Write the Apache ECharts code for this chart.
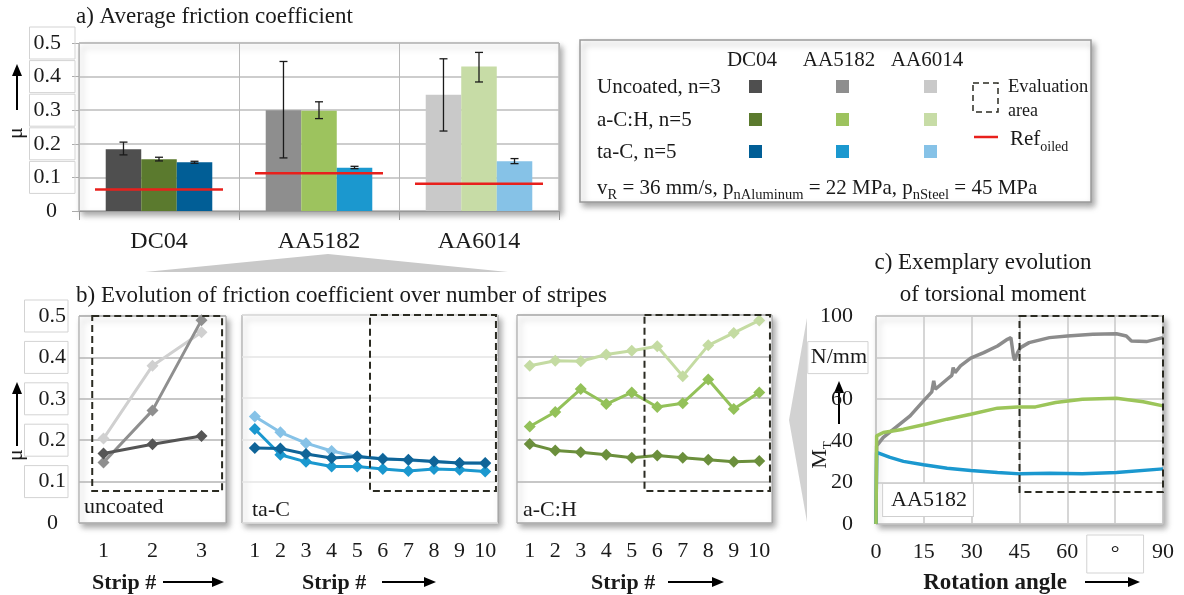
<!DOCTYPE html>
<html>
<head>
    <meta charset="utf-8">
    <title>Friction coefficient</title>
    <script src="https://cdn.jsdelivr.net/npm/echarts@6/dist/echarts.min.js"></script>
</head>
<body style="margin:0;background:#fff;">
<div id="main" style="width: 1184px;height:595px;"></div>
<script type="text/javascript">
// a) average friction coefficient
var materials = ['DC04', 'AA5182', 'AA6014'];
var coatings = ['Uncoated, n=3', 'a-C:H, n=5', 'ta-C, n=5'];
var muUncoated = [0.184, 0.300, 0.346];
var muACH = [0.154, 0.298, 0.430];
var muTaC = [0.145, 0.129, 0.148];
var errUncoated = [[0.167, 0.205], [0.158, 0.445], [0.238, 0.453]];
var errACH = [[0.149, 0.160], [0.275, 0.325], [0.384, 0.472]];
var errTaC = [[0.142, 0.148], [0.126, 0.133], [0.141, 0.156]];
var muRefOiled = [0.064, 0.112, 0.081];

// b) evolution over strips
var stripsUncoated = ['1', '2', '3'];
var stripsCoated = ['1', '2', '3', '4', '5', '6', '7', '8', '9', '10'];
var uncDC04 = [0.168, 0.190, 0.210];
var uncAA5182 = [0.146, 0.272, 0.490];
var uncAA6014 = [0.204, 0.380, 0.461];
var tacDC04 = [0.180, 0.179, 0.166, 0.156, 0.160, 0.154, 0.152, 0.148, 0.144, 0.144];
var tacAA5182 = [0.226, 0.164, 0.147, 0.136, 0.136, 0.130, 0.125, 0.130, 0.128, 0.124];
var tacAA6014 = [0.256, 0.218, 0.192, 0.173, 0.160, 0.155, 0.151, 0.148, 0.144, 0.143];
var achDC04 = [0.190, 0.174, 0.170, 0.164, 0.157, 0.162, 0.157, 0.152, 0.147, 0.149];
var achAA5182 = [0.232, 0.267, 0.322, 0.286, 0.314, 0.279, 0.288, 0.345, 0.274, 0.314];
var achAA6014 = [0.378, 0.390, 0.389, 0.405, 0.414, 0.425, 0.353, 0.427, 0.457, 0.487];
// evaluation areas: [first strip, last strip, mu bottom, mu top]
var evalUncoated = [0.77, 3.42, 0.077, 0.5];
var evalTaC = [5.5, 10.42, 0.077, 0.5];
var evalACH = [5.5, 10.42, 0.077, 0.5];

// c) torsional moment AA5182, [angle, M_T]
var mtUncoated = [[0, 0], [0.2, 37.6], [2.3, 41.6], [6.5, 46.8], [10.7, 52], [14.9, 59.2], [17.5, 63.5], [18.1, 68.8], [18.6, 64.8],
    [22.3, 69.6], [23.8, 71.5], [24.2, 75.2], [24.8, 72.8], [26.5, 76], [29.7, 79.7], [33.8, 82.4], [38.1, 85.6], [41.2, 88.8],
    [42.3, 89.6], [43.1, 80.8], [43.5, 78.7], [44.4, 82.4], [45.3, 84.8], [48, 87.2], [54.4, 89.6], [60, 90.4], [68, 91.2],
    [75.4, 91.5], [78.5, 90.4], [80.1, 88], [84.8, 87.7], [90, 89.6]];
var mtTaC = [[0, 0], [0.2, 34.4], [4.4, 32], [8.6, 30.1], [14.9, 28.5], [22.3, 26.8], [29.7, 25.7], [38.1, 24.8], [45.3, 24.1],
    [54.4, 24.4], [64.7, 24.1], [75.4, 24.8], [90, 26.5]];
var mtACH = [[0, 0], [0.2, 42.4], [2.3, 44], [8.6, 45.6], [14.9, 47.7], [22.3, 50.4], [29.7, 52.8], [38.1, 55.7], [44.4, 56.3],
    [50, 56.3], [56.3, 58.4], [64.7, 60], [75.4, 60.5], [83.8, 58.8], [90, 56.8]];
var evalTorque = [45, 90, 15.4, 100];

// colours per coating, per material
var colUncoated = ['#4f4f4f', '#8e8e8e', '#c9c9c9'];
var colACH = ['#5b7a2e', '#9dc35e', '#c7dca6'];
var colTaC = ['#015e96', '#1b98cf', '#86c2e7'];
var colLineACH = ['#6b8f3c', '#93c159', '#c4dba2'];

var font = 'Liberation Serif';

function barData(vals, cols) {
    return vals.map(function (v, i) { return { value: v, itemStyle: { color: cols[i] } }; });
}

var errData = [];
[errUncoated, errACH, errTaC].forEach(function (arr, c) {
    arr.forEach(function (e, i) { errData.push([i, c, e[0], e[1]]); });
});

function arrow(x1, y1, x2, y2) {
    var dx = x2 - x1, dy = y2 - y1, len = Math.sqrt(dx * dx + dy * dy);
    var ux = dx / len, uy = dy / len, h = 12, w = 5;
    var bx = x2 - ux * h, by = y2 - uy * h;
    return [
        { type: 'line', shape: { x1: x1, y1: y1, x2: bx, y2: by }, style: { stroke: '#000', lineWidth: 2 } },
        { type: 'polygon', shape: { points: [[x2, y2], [bx - uy * w, by + ux * w], [bx + uy * w, by - ux * w]] }, style: { fill: '#000' } }
    ];
}

function txt(x, y, s, size, opts) {
    var o = { type: 'text', x: x, y: y, style: { text: s, fontSize: size, fontFamily: font, fill: '#1a1a1a', align: 'left', verticalAlign: 'middle' } };
    if (opts) { for (var k in opts) { if (k === 'style') { for (var j in opts.style) o.style[j] = opts.style[j]; } else o[k] = opts[k]; } }
    return o;
}

function evalBox(idx, box, isCategory) {
    return {
        type: 'custom', xAxisIndex: idx, yAxisIndex: idx, z: 6, silent: true,
        data: [[0, 0]],
        renderItem: function (params, api) {
            var x0, x1;
            var top = api.coord([0, box[3]])[1], bot = api.coord([0, box[2]])[1];
            if (isCategory) {
                var band = api.size([1, 0])[0];
                var base = api.coord([0, 0])[0];
                x0 = base + (box[0] - 1) * band;
                x1 = base + (box[1] - 1) * band;
            } else {
                x0 = api.coord([box[0], 0])[0];
                x1 = api.coord([box[1], 0])[0];
            }
            return { type: 'rect', shape: { x: x0, y: top, width: x1 - x0, height: bot - top },
                style: { fill: 'none', stroke: '#2b2b22', lineWidth: 2, lineDash: [7, 4] } };
        }
    };
}

function stripLine(idx, name, data, color, z) {
    return {
        type: 'line', name: name, xAxisIndex: idx, yAxisIndex: idx, data: data, z: z || 2,
        symbol: 'diamond', symbolSize: 12, itemStyle: { color: color },
        lineStyle: { color: color, width: 3 }, emphasis: { disabled: true }
    };
}

function torqueLine(name, data, color) {
    return {
        type: 'line', name: name, xAxisIndex: 4, yAxisIndex: 4, data: data, showSymbol: false,
        lineStyle: { color: color, width: 3.5 }, itemStyle: { color: color }, emphasis: { disabled: true }
    };
}

var boxGrid = {
    show: true, backgroundColor: '#fff', borderColor: '#9a9a9a', borderWidth: 1,
    shadowBlur: 6, shadowColor: 'rgba(0,0,0,0.35)', shadowOffsetX: 3, shadowOffsetY: 4,
    outerBoundsMode: 'none'
};
function grid(l, t, w, h) {
    var g = { left: l, top: t, width: w, height: h };
    for (var k in boxGrid) g[k] = boxGrid[k];
    return g;
}

var labelBox = { fontSize: 22, fontFamily: font, color: '#1a1a1a', borderColor: '#d3d3d3', borderWidth: 1 };
function rich(extra) { var o = {}; for (var k in labelBox) o[k] = labelBox[k]; for (var j in extra) o[j] = extra[j]; return o; }

var graphics = [];
// titles
graphics.push(txt(76, 17, 'a) Average friction coefficient', 23));
graphics.push(txt(76, 296, 'b) Evolution of friction coefficient over number of stripes', 23));
graphics.push(txt(983, 263, 'c) Exemplary evolution', 23, { style: { align: 'center' } }));
graphics.push(txt(993, 295, 'of torsional moment', 23, { style: { align: 'center' } }));
// zoom wedges
graphics.push({ type: 'polygon', shape: { points: [[145, 272], [328, 254], [508, 272]] }, style: { fill: '#c9c9c9' } });
graphics.push({ type: 'polygon', shape: { points: [[807, 318], [789, 420], [807, 522]] }, style: { fill: '#d2d2d2' } });
// axis names
graphics.push(txt(16, 133, 'μ', 22, { rotation: Math.PI / 2, style: { align: 'center' } }));
graphics = graphics.concat(arrow(17, 110, 17, 64));
graphics.push(txt(16, 455, 'μ', 22, { rotation: Math.PI / 2, style: { align: 'center' } }));
graphics = graphics.concat(arrow(17, 446, 17, 382));
graphics.push({ type: 'text', x: 820, y: 455, rotation: Math.PI / 2,
    style: { text: '{m|M}{t|T}', align: 'center', verticalAlign: 'middle',
        rich: { m: { fontSize: 22, fontFamily: font, fill: '#1a1a1a', lineHeight: 28, verticalAlign: 'middle' },
                t: { fontSize: 13, fontFamily: font, fill: '#1a1a1a', lineHeight: 28, verticalAlign: 'bottom' } } } });
graphics = graphics.concat(arrow(839, 424, 839, 381));
// strip / angle labels
var bold = { style: { fontWeight: 'bold' } };
graphics.push(txt(92, 583, 'Strip #', 22, bold));
graphics = graphics.concat(arrow(163, 582, 224, 582));
graphics.push(txt(302, 583, 'Strip #', 22, bold));
graphics = graphics.concat(arrow(382, 582, 436, 582));
graphics.push(txt(591, 583, 'Strip #', 22, bold));
graphics = graphics.concat(arrow(668, 582, 724, 582));
graphics.push(txt(995, 583, 'Rotation angle', 23, { style: { fontWeight: 'bold', align: 'center' } }));
graphics = graphics.concat(arrow(1085, 582, 1140, 582));
// in-plot labels
graphics.push(txt(84, 507, 'uncoated', 22));
graphics.push(txt(252, 510, 'ta-C', 22));
graphics.push(txt(523, 510, 'a-C:H', 22));
graphics.push(txt(928, 500, 'AA5182', 22, { z: 10, style: { align: 'center', backgroundColor: '#fff', borderColor: '#cfcfcf', borderWidth: 1, padding: [5, 6, 5, 8] } }));

// legend box
graphics.push({ type: 'rect', shape: { x: 580, y: 40, width: 511, height: 162 },
    style: { fill: '#fff', stroke: '#9a9a9a', lineWidth: 1.5, shadowBlur: 6, shadowColor: 'rgba(0,0,0,0.35)', shadowOffsetX: 3, shadowOffsetY: 4 } });
var legX = [755, 842, 930];
var legY = [86, 119, 151];
materials.forEach(function (m, i) { graphics.push(txt(legX[i] - 3, 60, m, 21, { style: { align: 'center' } })); });
coatings.forEach(function (c, r) { graphics.push(txt(597, legY[r] + 1, c, 21)); });
[colUncoated, colACH, colTaC].forEach(function (cols, r) {
    cols.forEach(function (col, i) {
        graphics.push({ type: 'rect', shape: { x: legX[i] - 6, y: legY[r] - 6, width: 13, height: 13 }, style: { fill: col } });
    });
});
graphics.push({ type: 'rect', shape: { x: 973, y: 83, width: 25, height: 29 }, style: { fill: 'none', stroke: '#2b2b22', lineWidth: 1.5, lineDash: [6, 4] } });
graphics.push(txt(1008, 87, 'Evaluation', 18.5));
graphics.push(txt(1008, 111, 'area', 18));
graphics.push({ type: 'line', shape: { x1: 974, y1: 137, x2: 998, y2: 137 }, style: { stroke: '#e8201c', lineWidth: 2.5 } });
graphics.push({ type: 'text', x: 1010, y: 139,
    style: { text: '{n|Ref}{s|oiled}', verticalAlign: 'middle',
        rich: { n: { fontSize: 21, fontFamily: font, fill: '#1a1a1a', lineHeight: 30, verticalAlign: 'middle' },
                s: { fontSize: 14, fontFamily: font, fill: '#1a1a1a', lineHeight: 30, verticalAlign: 'bottom' } } } });
graphics.push({ type: 'text', x: 597, y: 188,
    style: { text: '{n|v}{s|R}{n| = 36 mm/s, p}{s|nAluminum}{n| = 22 MPa, p}{s|nSteel}{n| = 45 MPa}', verticalAlign: 'middle',
        rich: { n: { fontSize: 21, fontFamily: font, fill: '#1a1a1a', lineHeight: 30, verticalAlign: 'middle' },
                s: { fontSize: 14.5, fontFamily: font, fill: '#1a1a1a', lineHeight: 30, verticalAlign: 'bottom' } } } });

var myChart = echarts.init(document.getElementById('main'));
var option = {
    animation: false,
    textStyle: { fontFamily: font },
    grid: [
        grid(79, 43, 480, 168),
        grid(79, 316, 147, 207),
        grid(242, 315, 256, 208),
        grid(517, 315, 255, 208),
        grid(876, 316, 287, 208)
    ],
    xAxis: [
        { type: 'category', gridIndex: 0, data: materials,
          axisLine: { lineStyle: { color: '#999' } },
          axisTick: { show: true, length: 9, lineStyle: { color: '#999' } },
          splitLine: { show: true, lineStyle: { color: '#b8b8b8' } },
          axisLabel: { fontSize: 24, fontFamily: font, color: '#1a1a1a', margin: 19 } },
        { type: 'category', gridIndex: 1, data: stripsUncoated, axisLine: { show: false }, axisTick: { show: false },
          axisLabel: { fontSize: 22, fontFamily: font, color: '#1a1a1a', margin: 17, interval: 0 } },
        { type: 'category', gridIndex: 2, data: stripsCoated, axisLine: { show: false }, axisTick: { show: false },
          axisLabel: { fontSize: 22, fontFamily: font, color: '#1a1a1a', margin: 17, interval: 0 } },
        { type: 'category', gridIndex: 3, data: stripsCoated, axisLine: { show: false }, axisTick: { show: false },
          axisLabel: { fontSize: 22, fontFamily: font, color: '#1a1a1a', margin: 17, interval: 0 } },
        { type: 'value', gridIndex: 4, min: 0, max: 90, interval: 15, axisLine: { show: false }, axisTick: { show: false },
          splitLine: { show: true, lineStyle: { color: '#c8c8c8', width: 1.5 } },
          axisLabel: { margin: 11,
              formatter: function (v) { return v === 75 ? '{d|°}' : '{n|' + v + '}'; },
              rich: { n: { fontSize: 22, fontFamily: font, color: '#1a1a1a', padding: [6, 0, 0, 0] },
                      d: rich({ padding: [8, 24, 8, 24] }) } } }
    ],
    yAxis: [
        { type: 'value', gridIndex: 0, min: 0, max: 0.5, interval: 0.1,
          axisLine: { show: false },
          axisTick: { show: true, length: 7, lineStyle: { color: '#aaa' } },
          splitLine: { lineStyle: { color: '#bdbdbd', width: 1.5 } },
          axisLabel: { margin: 4,
              formatter: function (v) { return v === 0 ? '{z|0}' : '{b|' + v.toFixed(1) + '}'; },
              rich: { b: rich({ padding: [5, 14, 5, 4] }),
                      z: { fontSize: 22, fontFamily: font, color: '#1a1a1a', padding: [0, 18, 0, 0] } } } },
        { type: 'value', gridIndex: 1, min: 0, max: 0.5, interval: 0.1, axisLine: { show: false }, axisTick: { show: false },
          splitLine: { lineStyle: { color: '#b4b4b4', width: 1.5 } },
          axisLabel: { margin: 11,
              formatter: function (v) { return v === 0 ? '{z|0}' : '{b|' + v.toFixed(1) + '}'; },
              rich: { b: rich({ padding: [5, 2, 5, 14] }),
                      z: { fontSize: 22, fontFamily: font, color: '#1a1a1a', padding: [0, 10, 0, 0] } } } },
        { type: 'value', gridIndex: 2, min: 0, max: 0.5, interval: 0.1, axisLine: { show: false }, axisTick: { show: false },
          axisLabel: { show: false }, splitLine: { lineStyle: { color: '#e4e4e4', width: 1.5 } } },
        { type: 'value', gridIndex: 3, min: 0, max: 0.5, interval: 0.1, axisLine: { show: false }, axisTick: { show: false },
          axisLabel: { show: false }, splitLine: { lineStyle: { color: '#b4b4b4', width: 1.5 } } },
        { type: 'value', gridIndex: 4, min: 0, max: 100, interval: 20, axisLine: { show: false }, axisTick: { show: false },
          splitLine: { lineStyle: { color: '#c8c8c8', width: 1.5 } },
          axisLabel: { margin: 8,
              formatter: function (v) { return v === 80 ? '{u|N/mm}' : '{n|' + v + '}'; },
              rich: { n: { fontSize: 22, fontFamily: font, color: '#1a1a1a', padding: [0, 15, 0, 0] },
                      u: rich({ padding: [5, 1, 5, 3] }) } } }
    ],
    series: [
        { type: 'bar', name: coatings[0], xAxisIndex: 0, yAxisIndex: 0, barWidth: '22.2%', barGap: '0%', data: barData(muUncoated, colUncoated) },
        { type: 'bar', name: coatings[1], xAxisIndex: 0, yAxisIndex: 0, barWidth: '22.2%', barGap: '0%', data: barData(muACH, colACH) },
        { type: 'bar', name: coatings[2], xAxisIndex: 0, yAxisIndex: 0, barWidth: '22.2%', barGap: '0%', data: barData(muTaC, colTaC) },
        {
            type: 'custom', name: 'error', xAxisIndex: 0, yAxisIndex: 0, z: 4, data: errData,
            encode: { x: 0, y: [2, 3] },
            renderItem: function (params, api) {
                var band = api.size([1, 0])[0];
                var lo = api.coord([api.value(0), api.value(2)]);
                var hi = api.coord([api.value(0), api.value(3)]);
                var x = lo[0] + (api.value(1) - 1) * band * 0.222;
                var st = { stroke: '#1a1a1a', lineWidth: 1.3 };
                return { type: 'group', children: [
                    { type: 'line', shape: { x1: x, y1: lo[1], x2: x, y2: hi[1] }, style: st },
                    { type: 'line', shape: { x1: x - 4, y1: lo[1], x2: x + 4, y2: lo[1] }, style: st },
                    { type: 'line', shape: { x1: x - 4, y1: hi[1], x2: x + 4, y2: hi[1] }, style: st }
                ] };
            }
        },
        {
            type: 'custom', name: 'Ref oiled', xAxisIndex: 0, yAxisIndex: 0, z: 5,
            data: muRefOiled.map(function (v, i) { return [i, v]; }),
            renderItem: function (params, api) {
                var band = api.size([1, 0])[0];
                var c = api.coord([api.value(0), api.value(1)]);
                return { type: 'line', shape: { x1: c[0] - band * 0.4, y1: c[1], x2: c[0] + band * 0.4, y2: c[1] },
                    style: { stroke: '#e8201c', lineWidth: 2.5 } };
            }
        },
        stripLine(1, 'AA6014', uncAA6014, '#d0d0d0', 2),
        stripLine(1, 'AA5182', uncAA5182, '#8f8f8f', 3),
        stripLine(1, 'DC04', uncDC04, '#555555', 4),
        stripLine(2, 'AA6014', tacAA6014, colTaC[2], 2),
        stripLine(2, 'AA5182', tacAA5182, colTaC[1], 3),
        stripLine(2, 'DC04', tacDC04, '#0f6498', 4),
        stripLine(3, 'AA6014', achAA6014, colLineACH[2], 2),
        stripLine(3, 'AA5182', achAA5182, colLineACH[1], 3),
        stripLine(3, 'DC04', achDC04, colLineACH[0], 4),
        evalBox(1, evalUncoated, true),
        evalBox(2, evalTaC, true),
        evalBox(3, evalACH, true),
        torqueLine('Uncoated', mtUncoated, '#8c8c8c'),
        torqueLine('ta-C', mtTaC, '#1b98cf'),
        torqueLine('a-C:H', mtACH, '#9cc55a'),
        evalBox(4, evalTorque, false)
    ],
    graphic: { elements: graphics }
};
myChart.setOption(option);
window.onresize = function () {
    myChart.resize();
};
</script>
</body>
</html>
